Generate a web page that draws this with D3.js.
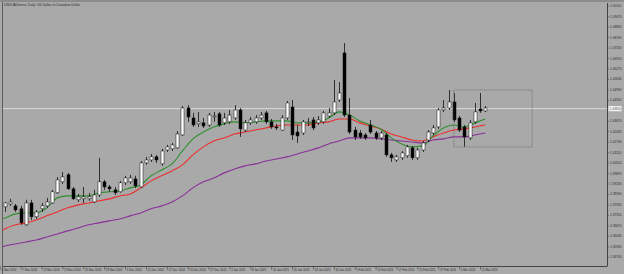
<!DOCTYPE html>
<html>
<head>
<meta charset="utf-8">
<script src="https://cdn.jsdelivr.net/npm/d3@7"></script>
<style>
  html, body { margin: 0; padding: 0; background: #a9a9a9; }
  svg { display: block; }
</style>
</head>
<body>
<svg></svg>
<script>
var width = 624;
var height = 274;

// plot frame
var plotLeft = 3, plotRight = 607, plotTop = 3, plotBottom = 266;

var title = 'USDCADmicro, Daily: US Dollar vs Canadian Dollar';

// daily candles (bar index 0..92)
var opens  = [1.3780,1.3798,1.3786,1.3768,1.3670,1.3804,1.3719,1.3768,1.3786,1.3804,
              1.3866,1.3933,1.3976,1.3890,1.3823,1.3829,1.3829,1.3810,1.3853,1.3933,
              1.3902,1.3884,1.3872,1.3927,1.3933,1.3951,1.3902,1.4049,1.4067,1.4086,
              1.4043,1.4128,1.4135,1.4141,1.4220,1.4385,1.4324,1.4288,1.4294,1.4281,
              1.4330,1.4349,1.4294,1.4300,1.4324,1.4373,1.4250,1.4294,1.4300,1.4324,
              1.4355,1.4300,1.4269,1.4250,1.4324,1.4391,1.4238,1.4232,1.4294,1.4312,
              1.4294,1.4300,1.4336,1.4355,1.4434,1.4722,1.4342,1.4250,1.4232,1.4220,
              1.4281,1.4232,1.4202,1.4220,1.4098,1.4067,1.4080,1.4092,1.4141,1.4080,
              1.4128,1.4189,1.4232,1.4269,1.4373,1.4385,1.4422,1.4324,1.4269,1.4202,
              1.4300,1.4379,1.4367];
var highs  = [1.3810,1.3829,1.3798,1.3786,1.3823,1.3823,1.3761,1.3804,1.3835,1.3884,
              1.3963,1.3994,1.3988,1.3902,1.3859,1.3902,1.3866,1.3884,1.4080,1.3945,
              1.3914,1.3902,1.3939,1.3970,1.3976,1.3970,1.4061,1.4086,1.4104,1.4098,
              1.4135,1.4159,1.4171,1.4244,1.4397,1.4403,1.4355,1.4361,1.4324,1.4355,
              1.4361,1.4361,1.4355,1.4373,1.4403,1.4385,1.4312,1.4330,1.4342,1.4361,
              1.4367,1.4318,1.4288,1.4342,1.4428,1.4434,1.4281,1.4312,1.4324,1.4330,
              1.4336,1.4367,1.4385,1.4556,1.4544,1.4783,1.4446,1.4269,1.4250,1.4232,
              1.4312,1.4244,1.4244,1.4232,1.4110,1.4098,1.4122,1.4159,1.4153,1.4141,
              1.4183,1.4250,1.4281,1.4385,1.4434,1.4495,1.4477,1.4336,1.4281,1.4312,
              1.4416,1.4477,1.4397];
var lows   = [1.3749,1.3786,1.3749,1.3670,1.3663,1.3700,1.3706,1.3749,1.3774,1.3798,
              1.3859,1.3921,1.3884,1.3823,1.3810,1.3804,1.3817,1.3804,1.3841,1.3884,
              1.3872,1.3853,1.3866,1.3914,1.3921,1.3896,1.3896,1.4037,1.4055,1.4049,
              1.4031,1.4116,1.4122,1.4135,1.4214,1.4300,1.4269,1.4269,1.4263,1.4269,
              1.4300,1.4269,1.4281,1.4288,1.4312,1.4208,1.4238,1.4281,1.4288,1.4312,
              1.4288,1.4257,1.4250,1.4244,1.4312,1.4189,1.4171,1.4220,1.4275,1.4250,
              1.4281,1.4288,1.4324,1.4342,1.4422,1.4330,1.4226,1.4189,1.4196,1.4189,
              1.4226,1.4189,1.4189,1.4086,1.4055,1.4055,1.4067,1.4080,1.4067,1.4067,
              1.4116,1.4177,1.4220,1.4257,1.4361,1.4373,1.4300,1.4238,1.4147,1.4189,
              1.4288,1.4355,1.4361];
var closes = [1.3804,1.3810,1.3761,1.3682,1.3804,1.3719,1.3749,1.3786,1.3810,1.3872,
              1.3945,1.3963,1.3890,1.3829,1.3841,1.3841,1.3841,1.3853,1.3933,1.3902,
              1.3890,1.3866,1.3927,1.3957,1.3957,1.3908,1.4049,1.4067,1.4086,1.4067,
              1.4122,1.4147,1.4159,1.4226,1.4385,1.4330,1.4281,1.4300,1.4275,1.4342,
              1.4336,1.4281,1.4324,1.4342,1.4373,1.4257,1.4294,1.4312,1.4324,1.4342,
              1.4300,1.4269,1.4263,1.4324,1.4416,1.4220,1.4214,1.4300,1.4300,1.4263,
              1.4312,1.4355,1.4355,1.4422,1.4477,1.4342,1.4238,1.4208,1.4208,1.4202,
              1.4238,1.4202,1.4232,1.4098,1.4080,1.4086,1.4110,1.4147,1.4080,1.4128,
              1.4171,1.4238,1.4263,1.4373,1.4385,1.4422,1.4312,1.4250,1.4208,1.4294,
              1.4361,1.4367,1.4385];

// moving averages, read every second bar
var maIdx = [-1,0,2,4,6,8,10,12,14,16,18,20,22,24,26,28,30,32,34,36,38,40,42,44,46,
             48,50,52,54,56,58,60,62,64,66,68,70,72,74,76,78,80,82,84,86,88,90,92];
var maFast = [1.3700,1.3712,1.3737,1.3743,1.3743,1.3774,1.3835,1.3847,1.3847,1.3847,
              1.3866,1.3872,1.3878,1.3896,1.3914,1.3970,1.4006,1.4043,1.4122,1.4196,
              1.4238,1.4269,1.4288,1.4300,1.4294,1.4300,1.4306,1.4306,1.4306,1.4294,
              1.4294,1.4300,1.4324,1.4361,1.4342,1.4306,1.4281,1.4257,1.4202,1.4165,
              1.4147,1.4153,1.4214,1.4263,1.4281,1.4269,1.4294,1.4318];
var maMid  = [1.3626,1.3645,1.3670,1.3682,1.3700,1.3725,1.3749,1.3774,1.3792,1.3804,
              1.3817,1.3829,1.3847,1.3859,1.3896,1.3939,1.3970,1.4000,1.4037,1.4098,
              1.4147,1.4183,1.4202,1.4226,1.4238,1.4250,1.4263,1.4275,1.4281,1.4281,
              1.4281,1.4294,1.4300,1.4318,1.4318,1.4294,1.4275,1.4257,1.4226,1.4208,
              1.4189,1.4183,1.4208,1.4232,1.4250,1.4257,1.4269,1.4281];
var maSlow = [1.3528,1.3541,1.3553,1.3565,1.3577,1.3596,1.3614,1.3633,1.3651,1.3670,
              1.3682,1.3694,1.3706,1.3725,1.3743,1.3768,1.3786,1.3810,1.3847,1.3896,
              1.3933,1.3957,1.3988,1.4012,1.4031,1.4043,1.4061,1.4073,1.4086,1.4104,
              1.4122,1.4141,1.4165,1.4183,1.4202,1.4202,1.4202,1.4196,1.4189,1.4183,
              1.4177,1.4171,1.4189,1.4196,1.4208,1.4208,1.4220,1.4232];

// price axis labels
var priceTicks = [1.50110,1.49470,1.48830,1.48190,1.47550,1.46910,1.46270,1.45630,
                  1.44990,1.44350,1.43710,1.43070,1.42430,1.41790,1.41150,1.40510,
                  1.39870,1.39230,1.38590,1.37950,1.37310,1.36670,1.36030,1.35390,1.34750];

// time axis labels (bar index, text)
var dateIdx = [-1,3,7,11,15,19,23,27,31,35,39,43,47,51,55,59,63,67,71,75,79,83,87,91];
var dateText = ['1 Nov 2024','7 Nov 2024','13 Nov 2024','19 Nov 2024','25 Nov 2024',
                '29 Nov 2024','5 Dec 2024','11 Dec 2024','17 Dec 2024','23 Dec 2024',
                '27 Dec 2024','2 Jan 2025','8 Jan 2025','14 Jan 2025','20 Jan 2025',
                '24 Jan 2025','30 Jan 2025','5 Feb 2025','11 Feb 2025','17 Feb 2025',
                '21 Feb 2025','27 Feb 2025','5 Mar 2025','11 Mar 2025'];

var bid = 1.4381;

// rectangle object drawn on the chart
var boxIdx = [86, 101];
var boxPrice = [1.4495, 1.4147];

var xScale = d3.scaleLinear()
        .domain([0, 92])
        .range([5, 485.2]);

var yScale = d3.scaleLinear()
        .domain([1.34750, 1.50110])
        .range([256.7, 5.7]);

var font = 'Liberation Sans, Arial, sans-serif';

var svg = d3.select('svg')
      .attr('width', width)
      .attr('height', height)
      .style('font-family', font);

svg.append('rect')
  .attr('width', width)
  .attr('height', height)
  .attr('fill', '#a9a9a9');

// window edges
svg.append('rect')
  .attr('width', width)
  .attr('height', 2)
  .attr('fill', '#8c8c8c');
svg.append('line')
  .attr('x1', 2.5).attr('x2', 2.5)
  .attr('y1', 2).attr('y2', height)
  .attr('stroke', '#5e5e5e')
  .attr('stroke-width', 1);

svg.append('clipPath')
  .attr('id', 'plot-clip')
  .append('rect')
  .attr('x', plotLeft).attr('y', plotTop)
  .attr('width', plotRight - plotLeft).attr('height', plotBottom - plotTop);

var plot = svg.append('g').attr('clip-path', 'url(#plot-clip)');

// bid line
plot.append('line')
  .attr('x1', plotLeft).attr('x2', plotRight)
  .attr('y1', yScale(bid)).attr('y2', yScale(bid))
  .attr('stroke', '#dadada')
  .attr('stroke-width', 1);

// moving averages
function maLine(values, color) {
  var line = d3.line()
    .x((d, i) => xScale(maIdx[i]))
    .y(d => yScale(d))
    .curve(d3.curveMonotoneX);
  plot.append('path')
    .datum(values)
    .attr('d', line)
    .attr('fill', 'none')
    .attr('stroke', color)
    .attr('stroke-width', 1.1);
}
maLine(maSlow, '#8a2f9a');
maLine(maMid, '#ee2c2c');
maLine(maFast, '#2f8f2f');

// candles
var bars = d3.range(opens.length);
var bw = 3;

plot.selectAll('.wick')
  .data(bars)
  .enter()
  .append('line')
    .attr('class', 'wick')
    .attr('x1', i => Math.round(xScale(i)) + 0.5)
    .attr('x2', i => Math.round(xScale(i)) + 0.5)
    .attr('y1', i => yScale(highs[i]))
    .attr('y2', i => yScale(lows[i]))
    .attr('stroke', '#111')
    .attr('stroke-width', 0.8);

plot.selectAll('.body')
  .data(bars)
  .enter()
  .append('rect')
    .attr('class', 'body')
    .attr('x', i => Math.round(xScale(i)) + 0.5 - bw / 2)
    .attr('y', i => yScale(Math.max(opens[i], closes[i])))
    .attr('width', bw)
    .attr('height', i => Math.max(0.8, Math.abs(yScale(opens[i]) - yScale(closes[i]))))
    .attr('fill', i => closes[i] >= opens[i] ? '#ffffff' : '#000000')
    .attr('stroke', '#111')
    .attr('stroke-width', 0.5);

// rectangle object
plot.append('rect')
  .attr('x', xScale(boxIdx[0]))
  .attr('y', yScale(boxPrice[0]))
  .attr('width', xScale(boxIdx[1]) - xScale(boxIdx[0]))
  .attr('height', yScale(boxPrice[1]) - yScale(boxPrice[0]))
  .attr('fill', 'none')
  .attr('stroke', '#5a5a5a')
  .attr('stroke-width', 0.7)
  .attr('stroke-dasharray', '1,1');

// price axis
var bidY = yScale(bid);
var yAxis = d3.axisRight(yScale)
        .tickValues(priceTicks.filter(p => Math.abs(yScale(p) - bidY) > 5))
        .tickSize(2)
        .tickPadding(1)
        .tickFormat(d3.format('.5f'));

var yg = svg.append('g')
  .attr('transform', `translate(${plotRight}, 0)`)
  .call(yAxis);
yg.select('.domain').attr('d', `M0.5,${plotTop}V${plotBottom}`).attr('stroke', '#444');
yg.selectAll('.tick line').attr('stroke', '#444').attr('stroke-width', 0.6);
yg.selectAll('.tick text')
  .attr('fill', '#2a2a2a')
  .style('font-size', '3.2px')
  .style('font-family', font);

// bid label
svg.append('rect')
  .attr('x', plotRight + 1.5)
  .attr('y', bidY - 2.6)
  .attr('width', 13)
  .attr('height', 5.2)
  .attr('fill', '#f2f2f2');
svg.append('text')
  .attr('x', plotRight + 2.5)
  .attr('y', bidY)
  .attr('dy', '0.35em')
  .attr('fill', '#555')
  .style('font-size', '3.2px')
  .text(d3.format('.5f')(bid));

// time axis
var xAxis = d3.axisBottom(xScale)
        .tickValues(dateIdx)
        .tickSize(4)
        .tickPadding(-1.5)
        .tickFormat((d, i) => dateText[i]);

var xg = svg.append('g')
  .attr('transform', `translate(0, ${plotBottom})`)
  .call(xAxis);
xg.select('.domain').attr('d', `M${plotLeft},0.5H${plotRight + 0.5}`).attr('stroke', '#444');
xg.selectAll('.tick line').attr('stroke', '#444').attr('stroke-width', 0.6);
xg.selectAll('.tick text')
  .attr('text-anchor', 'start')
  .attr('x', 1.2)
  .attr('fill', '#2a2a2a')
  .style('font-size', '2.9px')
  .style('font-family', font);

// title
svg.append('text')
  .attr('x', 4)
  .attr('y', 5.6)
  .attr('fill', '#2a2a2a')
  .style('font-size', '3.3px')
  .text(title);
</script>
</body>
</html>
